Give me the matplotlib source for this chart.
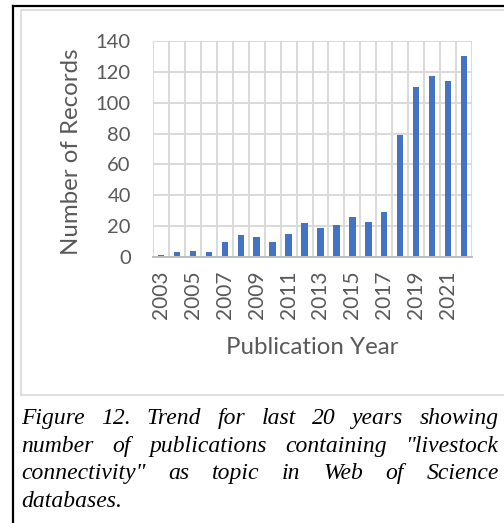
import matplotlib
matplotlib.use("Agg")
import matplotlib.pyplot as plt
from matplotlib.lines import Line2D

# Web of Science records per publication year
years = list(range(2003, 2023))
records = [1, 3, 4, 3, 10, 14, 13, 10, 15, 22, 19, 21, 26, 23, 29, 79, 110, 117, 114, 130]
year_labels = [str(y) for y in years[::2]]

caption_lines = [
    'Figure 12. Trend for last 20 years showing',
    'number of publications containing "livestock',
    'connectivity" as topic in Web of Science',
    'databases.',
]

W, H = 504, 523
fig = plt.figure(figsize=(W / 100, H / 100), dpi=100)
fig.patch.set_facecolor("white")

def fx(px):
    return px / W

def fy(py):
    return 1 - py / H

# page frame (black) and chart frame (light gray)
fig.add_artist(Line2D([fx(13), fx(13)], [fy(6), fy(H)], color="black", lw=1.6))
fig.add_artist(Line2D([fx(13), fx(W)], [fy(6), fy(6)], color="black", lw=1.6))
fig.add_artist(Line2D([fx(21), fx(21), fx(W)], [fy(395), fy(10), fy(10)], color="#D9D9D9", lw=1.2))
fig.add_artist(Line2D([fx(21), fx(W)], [fy(395), fy(395)], color="#D9D9D9", lw=1.2))

ax = fig.add_axes([fx(153), fy(257), fx(472) - fx(153), fy(41) - fy(257)])
idx = list(range(len(years)))
ax.bar(idx, records, width=0.4, color="#4472C4", zorder=3)

ax.set_xlim(-0.5, len(years) - 0.5)
ax.set_ylim(0, 140)
ax.set_yticks(range(0, 141, 20))
ax.set_xticks(idx[::2])
ax.set_xticklabels(year_labels, rotation=90)
ax.set_xticks([i - 0.5 for i in range(len(years) + 1)], minor=True)

ax.grid(True, which="major", axis="y", color="#D9D9D9", lw=1.4, zorder=0)
ax.grid(True, which="minor", axis="x", color="#D9D9D9", lw=1.4, zorder=0)
for s in ["top", "right", "left"]:
    ax.spines[s].set_visible(False)
ax.spines["bottom"].set_color("#BFBFBF")
ax.spines["bottom"].set_linewidth(1.4)
ax.spines["bottom"].set_zorder(4)

ax.tick_params(which="both", length=0)
ax.tick_params(axis="y", pad=16, labelsize=14.5, labelcolor="#595959")
ax.tick_params(axis="x", pad=10, labelsize=15, labelcolor="#595959")
for lab in ax.get_xticklabels() + ax.get_yticklabels():
    lab.set_family("Lato")

fig.text(fx(71), fy(152), "Number of Records", family="Lato", fontsize=17.3,
         color="#595959", ha="center", va="center", rotation=90)
fig.text(fx(312), fy(347), "Publication Year", family="Lato", fontsize=17.3,
         color="#595959", ha="center", va="center")

# justified caption
renderer = fig.canvas.get_renderer()
x0, x1 = 21, 499
baselines = [424, 452, 479, 507]
for line, py in zip(caption_lines, baselines):
    words = line.split(" ")
    texts = [fig.text(0, fy(py), w, family="Liberation Serif", style="italic",
                      fontsize=17, va="baseline", ha="left") for w in words]
    widths = [t.get_window_extent(renderer).width for t in texts]
    if line is caption_lines[-1]:
        gap = 4
    else:
        gap = (x1 - x0 - sum(widths)) / (len(words) - 1)
    x = x0
    for t, w in zip(texts, widths):
        t.set_x(fx(x))
        x += w + gap

fig.savefig("out.png", dpi=100)
